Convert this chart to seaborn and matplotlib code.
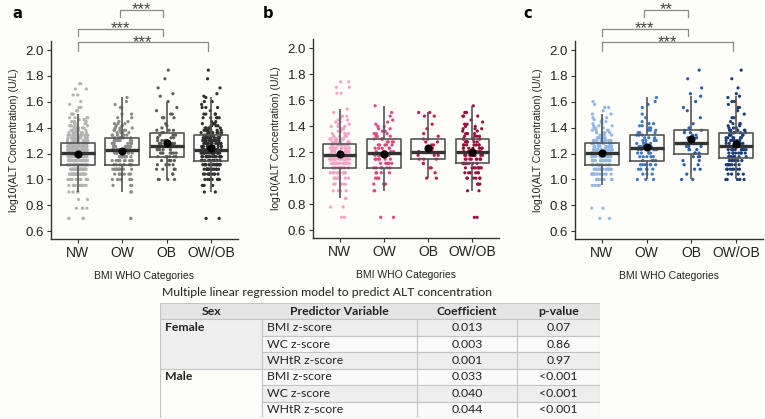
"""
ALT concentration by BMI WHO category (all, female, male) plus regression table.
"""
import numpy as np
import pandas as pd
import matplotlib
matplotlib.use("Agg")
import matplotlib.pyplot as plt
from matplotlib.patches import Rectangle
import seaborn as sns

groups = ["NW", "OW", "OB"]
order = ["NW", "OW", "OB", "OW/OB"]   # OW/OB = the OW and OB children together

# ALT values (U/L) and the number of dots seen at each value
f_nw_alt = [5, 6, 7, 8, 9, 10, 11, 12, 13, 14, 15, 16, 17, 18, 19, 20, 21, 22, 23, 24, 25, 26, 27, 28, 29, 30, 32, 34, 45, 50, 55]
f_nw_n = [2, 2, 2, 4, 6, 10, 12, 16, 18, 18, 18, 16, 14, 12, 8, 7, 5, 4, 3, 3, 3, 2, 2, 2, 1, 2, 1, 1, 2, 2, 2]
f_ow_alt = [5, 8, 9, 10, 11, 12, 13, 14, 15, 16, 17, 18, 19, 20, 21, 22, 23, 24, 25, 26, 27, 28, 30, 32, 36]
f_ow_n = [2, 2, 3, 4, 5, 6, 6, 6, 7, 5, 5, 5, 4, 4, 3, 3, 2, 2, 2, 1, 1, 1, 1, 1, 1]
f_ob_alt = [10, 11, 12, 13, 14, 15, 16, 17, 18, 19, 20, 21, 22, 24, 26, 30, 32]
f_ob_n = [2, 1, 2, 2, 3, 3, 4, 2, 2, 2, 2, 1, 1, 1, 1, 2, 2]

m_nw_alt = [5, 6, 9, 10, 11, 12, 13, 14, 15, 16, 17, 18, 19, 20, 21, 22, 23, 24, 25, 26, 27, 28, 29, 30, 32, 34, 36, 38, 40]
m_nw_n = [2, 2, 4, 8, 12, 16, 18, 20, 20, 20, 18, 16, 12, 10, 7, 6, 5, 4, 3, 3, 2, 2, 2, 2, 2, 1, 2, 1, 1]
m_ow_alt = [10, 11, 12, 13, 14, 15, 16, 17, 18, 19, 20, 21, 22, 23, 24, 25, 26, 27, 28, 30, 32, 36, 38, 40, 43]
m_ow_n = [3, 3, 5, 6, 5, 5, 5, 6, 5, 4, 4, 3, 3, 3, 3, 2, 2, 2, 1, 1, 1, 1, 1, 1, 1]
m_ob_alt = [10, 11, 12, 13, 14, 15, 16, 17, 18, 19, 20, 21, 22, 23, 24, 25, 27, 30, 34, 36, 40, 44, 46, 51, 60, 70]
m_ob_n = [2, 1, 2, 2, 2, 3, 3, 3, 3, 4, 3, 3, 2, 2, 2, 1, 1, 1, 1, 1, 1, 1, 1, 1, 1, 1]

grey_pal = {"NW": "#b3b3b3", "OW": "#8a8a8a", "OB": "#5c5c5c", "OW/OB": "#2e2e2e"}
pink_pal = {"NW": "#f3a3c4", "OW": "#e0457f", "OB": "#c4174a", "OW/OB": "#9b0f3c"}
blue_pal = {"NW": "#93b6e4", "OW": "#3f77c6", "OB": "#2a5aa8", "OW/OB": "#1d3b78"}

# significance brackets: (from, to, stars)
brackets_a = [("OW", "OB", "***"), ("NW", "OB", "***"), ("NW", "OW/OB", "***")]
brackets_c = [("OW", "OB", "**"), ("NW", "OB", "***"), ("NW", "OW/OB", "***")]

# regression table
tbl_header = ["Sex", "Predictor Variable", "Coefficient", "p-value"]
tbl_sex = ["Female", "Male"]
tbl_pred = ["BMI z-score", "WC z-score", "WHtR z-score"]
coef_female = ["0.013", "0.003", "0.001"]
coef_male = ["0.033", "0.040", "0.044"]
p_female = ["0.07", "0.86", "0.97"]
p_male = ["<0.001", "<0.001", "<0.001"]


def build(sex, alts, counts):
    rows = []
    for g, a, n in zip(groups, alts, counts):
        vals = np.repeat(a, n)
        rows.append(pd.DataFrame({"sex": sex, "group": g, "alt": vals}))
        if g != "NW":
            rows.append(pd.DataFrame({"sex": sex, "group": "OW/OB", "alt": vals}))
    return pd.concat(rows, ignore_index=True)


female = build("F", [f_nw_alt, f_ow_alt, f_ob_alt], [f_nw_n, f_ow_n, f_ob_n])
male = build("M", [m_nw_alt, m_ow_alt, m_ob_alt], [m_nw_n, m_ow_n, m_ob_n])
both = pd.concat([female, male], ignore_index=True)
for d in (female, male, both):
    d["log_alt"] = np.log10(d["alt"])

bg = "#fdfdf9"
plt.rcParams["font.family"] = ["Liberation Sans", "DejaVu Sans"]
plt.rcParams["figure.facecolor"] = bg
plt.rcParams["axes.facecolor"] = bg

fig = plt.figure(figsize=(7.65, 4.19), dpi=100)
W, H = 765, 419
np.random.seed(7)  # only for the dot jitter


def panel(rect, df, pal, letter, letter_xy, brackets=None):
    x0, top, x1, bottom = rect
    ax = fig.add_axes([x0 / W, 1 - bottom / H, (x1 - x0) / W, (bottom - top) / H])
    sns.stripplot(data=df, x="group", y="log_alt", order=order, hue="group",
                  hue_order=order, palette=pal, jitter=0.23, size=2.3,
                  linewidth=0, legend=False, ax=ax, zorder=2)
    sns.boxplot(data=df, x="group", y="log_alt", order=order, fill=False,
                color="#555555", linewidth=1.2, width=0.76, showfliers=False,
                showcaps=False, medianprops={"color": "#333333", "linewidth": 2.4},
                ax=ax, zorder=3)
    sns.pointplot(data=df, x="group", y="log_alt", order=order, estimator="mean",
                  errorbar=None, color="black", markers="o", linestyle="none",
                  markersize=3.8, ax=ax, zorder=4)
    ax.set_xlim(-0.6, 3.6)
    ax.set_ylim(0.54, 2.07)
    ax.set_yticks(np.arange(0.6, 2.01, 0.2))
    ax.set_yticklabels([f"{t:.1f}" for t in np.arange(0.6, 2.01, 0.2)])
    ax.set_ylabel("log10(ALT Concentration) (U/L)", fontsize=7.5, color="#222222", labelpad=5)
    ax.set_xlabel("BMI WHO Categories", fontsize=7.5, color="#222222", labelpad=8)
    ax.tick_params(axis="x", labelsize=10, length=3, width=0.8, color="#333333",
                   labelcolor="#222222", pad=2)
    ax.tick_params(axis="y", labelsize=9.5, length=3, width=0.8, color="#333333",
                   labelcolor="#222222", pad=2)
    for s in ["top", "right"]:
        ax.spines[s].set_visible(False)
    for s in ["left", "bottom"]:
        ax.spines[s].set_color("#333333")
        ax.spines[s].set_linewidth(1.0)
    fig.text(letter_xy[0] / W, 1 - letter_xy[1] / H, letter, fontsize=10.5,
             fontweight="bold", ha="center", va="center", family="DejaVu Sans")
    if brackets:
        # (horizontal line, tip end, star centre) in axis units
        levels = [(2.31, 2.255, 2.35), (2.16, 2.11, 2.205), (2.06, 1.99, 2.095)]
        for (g1, g2, stars), (yh, yt, ys) in zip(brackets, levels):
            i1 = order.index(g1) + (0.0 if g1 == "NW" else -0.06)
            i2 = order.index(g2) - 0.08
            ax.plot([i1, i1, i2, i2], [yt, yh, yh, yt], color="#8a8a8a",
                    linewidth=0.9, clip_on=False)
            ax.text((i1 + i2) / 2, ys - 0.075, stars, ha="center", va="baseline",
                    fontsize=12, color="#444444", clip_on=False)
    return ax


panel((51, 41, 238, 239), both, grey_pal, "a", (17, 14), brackets_a)
panel((313, 39, 499, 238), female, pink_pal, "b", (268, 14))
panel((575, 41, 763, 239), male, blue_pal, "c", (528, 14), brackets_c)

# ---- regression table ----
tx0, ty0, tw, th = 160, 303, 440, 115
tax = fig.add_axes([tx0 / W, 1 - (ty0 + th) / H, tw / W, th / H])
tax.set_xlim(0, tw)
tax.set_ylim(th, 0)
tax.axis("off")
col_edges = [0, 102, 257, 357, 440]
row_h = th / 7
tfont = ["Lato", "DejaVu Sans"]
line_c = "#c4c4c4"
fs = 8.8

fig.text(tx0 / W + 0.002, 1 - 293 / H, "Multiple linear regression model to predict ALT concentration",
         fontsize=fs, family=tfont, color="#222222", va="center")

# header
tax.add_patch(Rectangle((0, 0), tw, row_h, facecolor="#e4e4e4", edgecolor=line_c, linewidth=0.8))
for c, label in enumerate(tbl_header):
    tax.text((col_edges[c] + col_edges[c + 1]) / 2, row_h / 2, label, ha="center", va="center",
             fontsize=fs, fontweight="bold", family=tfont, color="#222222")

blocks = [(tbl_sex[0], coef_female, p_female, "#efefef"), (tbl_sex[1], coef_male, p_male, bg)]
r = 1
for sex, coefs, ps, sex_bg in blocks:
    ytop = r * row_h
    tax.add_patch(Rectangle((0, ytop), col_edges[1], 3 * row_h, facecolor=sex_bg,
                            edgecolor=line_c, linewidth=0.8))
    tax.text(5, ytop + row_h / 2, sex, ha="left", va="center", fontsize=fs,
             fontweight="bold", family=tfont, color="#222222")
    for k in range(3):
        y = (r + k) * row_h
        shade = "#eeeeee" if (r + k) % 2 == 1 else "#fafafa"
        tax.add_patch(Rectangle((col_edges[1], y), tw - col_edges[1], row_h, facecolor=shade,
                                edgecolor=line_c, linewidth=0.8))
        for c in (2, 3):
            tax.plot([col_edges[c]] * 2, [y, y + row_h], color=line_c, linewidth=0.8)
        tax.text(col_edges[1] + 5, y + row_h / 2, tbl_pred[k], ha="left", va="center",
                 fontsize=fs, family=tfont, color="#222222")
        tax.text((col_edges[2] + col_edges[3]) / 2, y + row_h / 2, coefs[k], ha="center",
                 va="center", fontsize=fs, family=tfont, color="#222222")
        tax.text((col_edges[3] + col_edges[4]) / 2, y + row_h / 2, ps[k], ha="center",
                 va="center", fontsize=fs, family=tfont, color="#222222")
    r += 3

fig.savefig("out.png", dpi=100, facecolor=bg)
